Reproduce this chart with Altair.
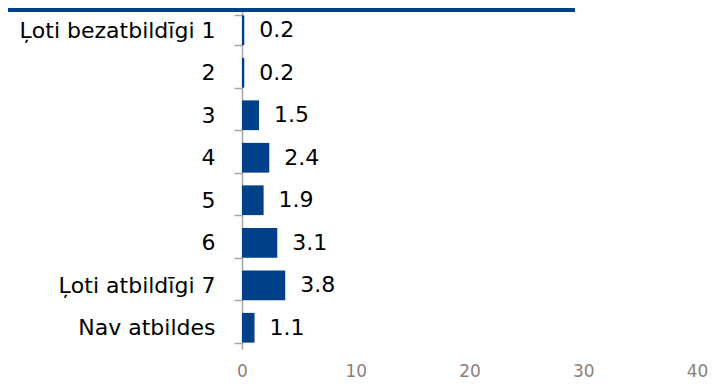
import altair as alt
import pandas as pd

categories = ["Ļoti bezatbildīgi 1", "2", "3", "4", "5", "6", "Ļoti atbildīgi 7", "Nav atbildes"]
values = [0.2, 0.2, 1.5, 2.4, 1.9, 3.1, 3.8, 1.1]
x_ticks = [0, 10, 20, 30, 40]

df = pd.DataFrame({"cat": categories, "val": values, "lbl": [f"{v:.1f}" for v in values]})

FONT = "DejaVu Sans"
BLUE = "#004088"

y_enc = alt.Y("cat:N", sort=categories, title=None,
              scale=alt.Scale(paddingInner=0.3, paddingOuter=0.15),
              axis=alt.Axis(domainColor="#A6A6A6", domainWidth=1.5, tickColor="#A6A6A6",
                            tickWidth=1.5, tickSize=8, tickBand="extent", labelFont=FONT,
                            labelFontSize=22, labelColor="#000000", labelPadding=19,
                            labelLimit=400))
x_enc = alt.X("val:Q", title=None,
              scale=alt.Scale(domain=[0, 40], nice=False),
              axis=alt.Axis(values=x_ticks, domain=False, ticks=False, grid=False,
                            labelFont=FONT, labelFontSize=17, labelColor="#8C7F7A",
                            labelPadding=14, labelFlush=False))

bars = alt.Chart(df).mark_bar(color=BLUE).encode(x=x_enc, y=y_enc)
texts = alt.Chart(df).mark_text(align="left", baseline="middle", dx=15, font=FONT,
                                fontSize=22, color="#000000").encode(
    x="val:Q", y=alt.Y("cat:N", sort=categories), text="lbl:N")
top_line = alt.Chart(df).mark_rule(color=BLUE, strokeWidth=3).encode(
    x=alt.value(-240), x2=alt.value(333), y=alt.value(1))

chart = alt.layer(bars, texts, top_line).properties(
    width=455, height=340,
    autosize=alt.AutoSizeParams(type="none"),
    padding={"left": 234, "top": 1, "right": 13, "bottom": 30},
).configure_view(stroke=None)

chart.save("out.html", embed_options={"renderer": "svg", "actions": False})
